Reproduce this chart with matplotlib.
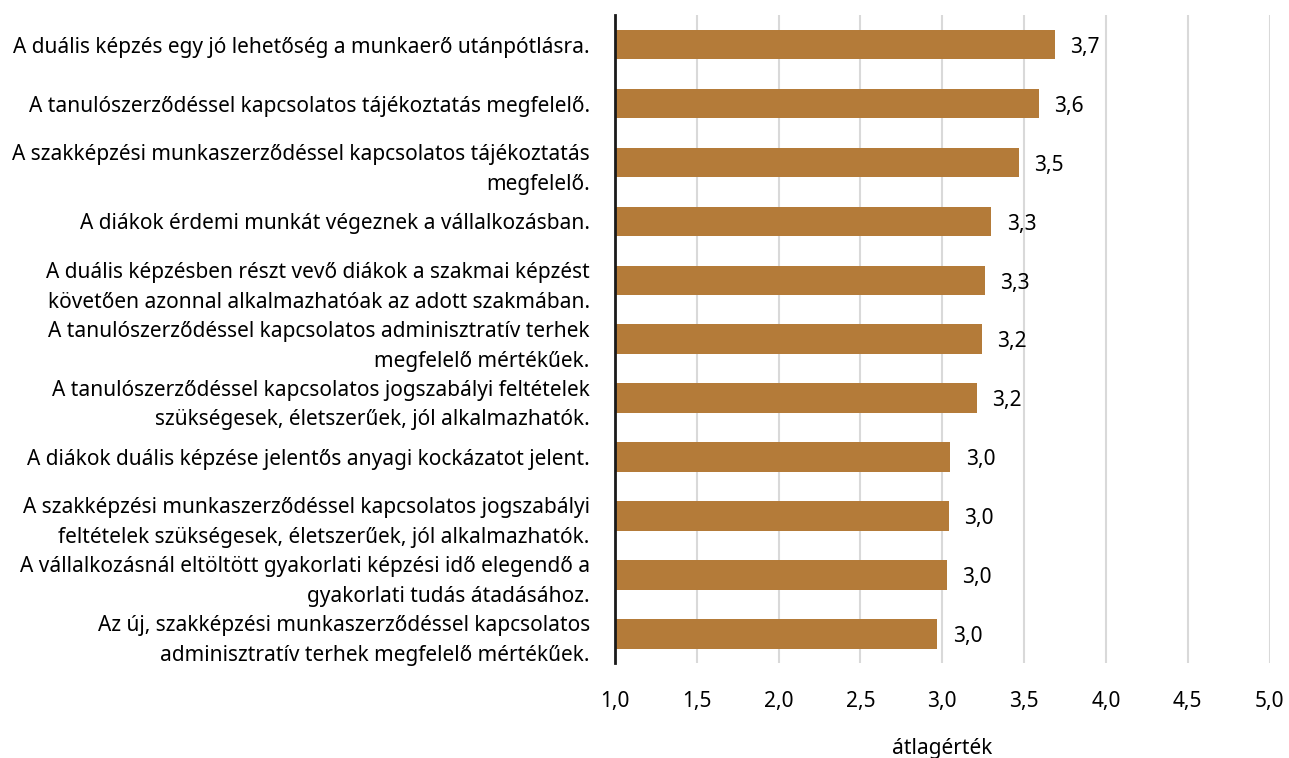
import matplotlib.pyplot as plt

labels = [
    'A duális képzés egy jó lehetőség a munkaerő utánpótlásra.',
    'A tanulószerződéssel kapcsolatos tájékoztatás megfelelő.',
    'A szakképzési munkaszerződéssel kapcsolatos tájékoztatás\nmegfelelő.',
    'A diákok érdemi munkát végeznek a vállalkozásban.',
    'A duális képzésben részt vevő diákok a szakmai képzést\nkövetően azonnal alkalmazhatóak az adott szakmában.',
    'A tanulószerződéssel kapcsolatos adminisztratív terhek\nmegfelelő mértékűek.',
    'A tanulószerződéssel kapcsolatos jogszabályi feltételek\nszükségesek, életszerűek, jól alkalmazhatók.',
    'A diákok duális képzése jelentős anyagi kockázatot jelent.',
    'A szakképzési munkaszerződéssel kapcsolatos jogszabályi\nfeltételek szükségesek, életszerűek, jól alkalmazhatók.',
    'A vállalkozásnál eltöltött gyakorlati képzési idő elegendő a\ngyakorlati tudás átadásához.',
    'Az új, szakképzési munkaszerződéssel kapcsolatos\nadminisztratív terhek megfelelő mértékűek.',
]
values = [3.69, 3.59, 3.47, 3.30, 3.26, 3.24, 3.21, 3.05, 3.04, 3.03, 2.97]
xticks = [1.0, 1.5, 2.0, 2.5, 3.0, 3.5, 4.0, 4.5, 5.0]

plt.rcParams['font.family'] = ['Noto Sans', 'DejaVu Sans']
fs = 15

fig = plt.figure(figsize=(12.89, 7.58), dpi=100)
ax = fig.add_axes([0.477, 0.125, 0.508, 0.855])

y = list(range(len(labels)))
ax.barh(y, [v - 1 for v in values], left=1, height=0.5, color='#b47b39', zorder=3)
for yi, v in zip(y, values):
    ax.annotate(f'{v:.1f}'.replace('.', ','), (v, yi), xytext=(11, -2),
                textcoords='offset points', va='center', ha='left', fontsize=fs)

ax.set_xlim(1, 5)
ax.set_ylim(len(labels) - 0.5, -0.5)
ax.set_xticks(xticks)
ax.set_xticklabels([f'{t:.1f}'.replace('.', ',') for t in xticks], fontsize=fs)
ax.set_yticks(y)
ax.set_yticklabels(labels, fontsize=fs, ha='right', linespacing=1.55)
ax.tick_params(axis='both', length=0)
ax.tick_params(axis='y', pad=18)
ax.tick_params(axis='x', pad=20)
ax.grid(axis='x', color='#d9d9d9', linewidth=1.5, zorder=0)
for s in ['top', 'right', 'bottom']:
    ax.spines[s].set_visible(False)
ax.spines['left'].set_linewidth(2)
ax.spines['left'].set_color('#1a1a1a')
ax.spines['left'].set_zorder(4)
ax.set_xlabel('átlagérték', fontsize=fs, labelpad=19)

fig.savefig('out.png', dpi=100)
